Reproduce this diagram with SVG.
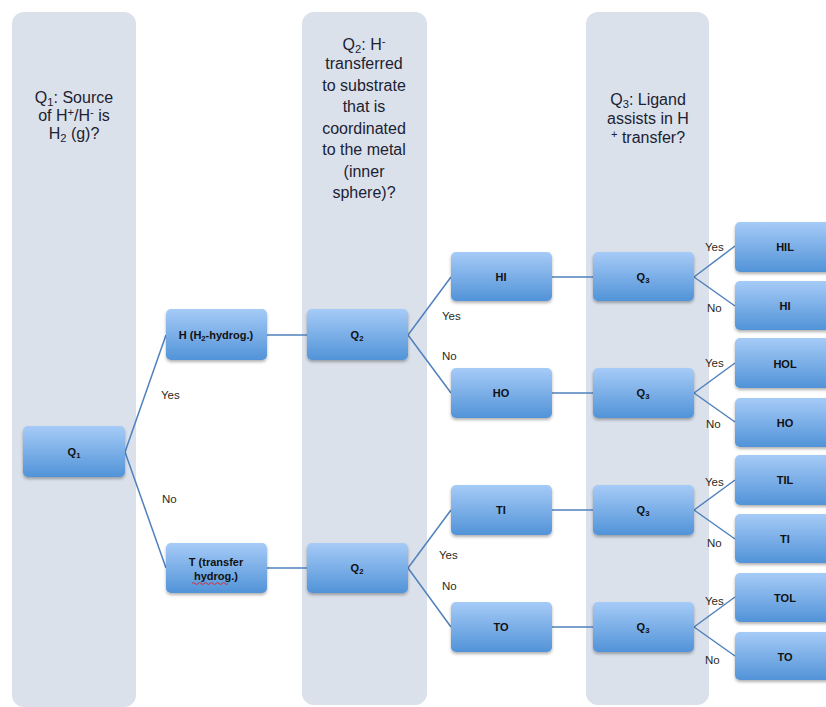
<svg xmlns="http://www.w3.org/2000/svg" width="826" height="707" viewBox="0 0 826 707">
<defs>
<linearGradient id="nodeGrad" x1="0" y1="0" x2="0" y2="1">
<stop offset="0" stop-color="#a6cbf7"/>
<stop offset="1" stop-color="#5193d8"/>
</linearGradient>
<filter id="shadow" x="-10%" y="-10%" width="120%" height="140%">
<feDropShadow dx="0" dy="2" stdDeviation="1.5" flood-color="#000" flood-opacity="0.3"/>
</filter>
</defs>
<style>
.col{fill:#dae1eb;}
.hdr{font-family:"Liberation Sans","Open Sans",sans-serif;font-size:16px;fill:#1c2232;text-anchor:middle;}
.node rect{fill:url(#nodeGrad);filter:url(#shadow);}
.node text{font-family:"Liberation Sans",Arial,sans-serif;font-size:11px;font-weight:bold;fill:#111;text-anchor:middle;}
.conn line{stroke:#4f81bd;stroke-width:1.5;fill:none;}
.lbl{font-family:"Liberation Sans",Arial,sans-serif;font-size:11.5px;fill:#2a2a1a;}
.sub{font-size:70%;}
</style>
<rect width="826" height="707" fill="#ffffff"/>
<g id="columns">
<rect class="col" x="12" y="12" width="124" height="695" rx="12"/>
<rect class="col" x="302" y="12" width="125" height="693" rx="12"/>
<rect class="col" x="586" y="12" width="123" height="693" rx="12"/>
</g>
<g id="headers">
<text class="hdr" x="74" y="103">Q<tspan class="sub" dy="3">1</tspan><tspan dy="-3">: Source</tspan></text>
<text class="hdr" x="74" y="121">of H<tspan class="sub" dy="-5">+</tspan><tspan dy="5">/H</tspan><tspan class="sub" dy="-5">-</tspan><tspan dy="5"> is</tspan></text>
<text class="hdr" x="74" y="139">H<tspan class="sub" dy="3">2</tspan><tspan dy="-3"> (g)?</tspan></text>
<text class="hdr" x="364" y="50">Q<tspan class="sub" dy="3">2</tspan><tspan dy="-3">: H</tspan><tspan class="sub" dy="-5">-</tspan></text>
<text class="hdr" x="364" y="69">transferred</text>
<text class="hdr" x="364" y="91">to substrate</text>
<text class="hdr" x="364" y="112">that is</text>
<text class="hdr" x="364" y="134">coordinated</text>
<text class="hdr" x="364" y="155">to the metal</text>
<text class="hdr" x="364" y="177">(inner</text>
<text class="hdr" x="364" y="198">sphere)?</text>
<text class="hdr" x="648" y="105">Q<tspan class="sub" dy="3">3</tspan><tspan dy="-3">: Ligand</tspan></text>
<text class="hdr" x="648" y="124">assists in H</text>
<text class="hdr" x="648" y="143"><tspan class="sub" dy="-5">+</tspan><tspan dy="5"> transfer?</tspan></text>
</g>
<g id="connectors" class="conn">
<line x1="125" y1="452" x2="166" y2="335"/>
<line x1="125" y1="452" x2="166" y2="568"/>
<line x1="267" y1="335" x2="307" y2="335"/>
<line x1="267" y1="568" x2="307" y2="568"/>
<line x1="408" y1="335" x2="451" y2="277"/>
<line x1="408" y1="335" x2="451" y2="393"/>
<line x1="408" y1="568" x2="451" y2="510"/>
<line x1="408" y1="568" x2="451" y2="627"/>
<line x1="552" y1="277" x2="593" y2="277"/>
<line x1="552" y1="393" x2="593" y2="393"/>
<line x1="552" y1="510" x2="593" y2="510"/>
<line x1="552" y1="627" x2="593" y2="627"/>
<line x1="694" y1="277" x2="735" y2="246"/>
<line x1="694" y1="277" x2="735" y2="306"/>
<line x1="694" y1="393" x2="735" y2="363"/>
<line x1="694" y1="393" x2="735" y2="422"/>
<line x1="694" y1="510" x2="735" y2="480"/>
<line x1="694" y1="510" x2="735" y2="539"/>
<line x1="694" y1="627" x2="735" y2="597"/>
<line x1="694" y1="627" x2="735" y2="656"/>
</g>
<g id="labels">
<text class="lbl" x="161" y="399">Yes</text>
<text class="lbl" x="162" y="503">No</text>
<text class="lbl" x="442" y="320">Yes</text>
<text class="lbl" x="442" y="360">No</text>
<text class="lbl" x="439" y="559">Yes</text>
<text class="lbl" x="442" y="590">No</text>
<text class="lbl" x="705" y="251">Yes</text>
<text class="lbl" x="707" y="312">No</text>
<text class="lbl" x="705" y="367">Yes</text>
<text class="lbl" x="706" y="428">No</text>
<text class="lbl" x="705" y="486">Yes</text>
<text class="lbl" x="707" y="547">No</text>
<text class="lbl" x="705" y="605">Yes</text>
<text class="lbl" x="705" y="664">No</text>
</g>
<g id="q1" class="node"><rect x="23" y="426" width="102" height="51" rx="5"/><text x="74" y="456">Q<tspan class="sub" dy="2">1</tspan></text></g>
<g id="h" class="node"><rect x="166" y="309" width="101" height="51" rx="5"/><text x="216" y="339">H (H<tspan class="sub" dy="2">2</tspan><tspan dy="-2">-hydrog.)</tspan></text></g>
<g id="t" class="node"><rect x="166" y="543" width="101" height="50" rx="5"/><text x="216" y="566">T (transfer</text><text x="216" y="580">hydrog.)</text></g>
<path d="M192 583.5 q1.5 -2 3 0 t3 0 t3 0 t3 0 t3 0 t3 0 t3 0 t3 0 t3 0 t3 0 t3 0 t3 0" fill="none" stroke="#e02020" stroke-width="0.9"/>
<g id="q2a" class="node"><rect x="307" y="309" width="101" height="51" rx="5"/><text x="357" y="339">Q<tspan class="sub" dy="2">2</tspan></text></g>
<g id="q2b" class="node"><rect x="307" y="543" width="101" height="50" rx="5"/><text x="357" y="572">Q<tspan class="sub" dy="2">2</tspan></text></g>
<g id="hi" class="node"><rect x="451" y="252" width="101" height="49" rx="5"/><text x="501" y="281">HI</text></g>
<g id="ho" class="node"><rect x="451" y="368" width="101" height="50" rx="5"/><text x="501" y="397">HO</text></g>
<g id="ti" class="node"><rect x="451" y="485" width="101" height="50" rx="5"/><text x="501" y="514">TI</text></g>
<g id="to" class="node"><rect x="451" y="602" width="101" height="50" rx="5"/><text x="501" y="631">TO</text></g>
<g id="q3a" class="node"><rect x="593" y="252" width="101" height="49" rx="5"/><text x="643" y="281">Q<tspan class="sub" dy="2">3</tspan></text></g>
<g id="q3b" class="node"><rect x="593" y="368" width="101" height="50" rx="5"/><text x="643" y="397">Q<tspan class="sub" dy="2">3</tspan></text></g>
<g id="q3c" class="node"><rect x="593" y="485" width="101" height="50" rx="5"/><text x="643" y="514">Q<tspan class="sub" dy="2">3</tspan></text></g>
<g id="q3d" class="node"><rect x="593" y="602" width="101" height="50" rx="5"/><text x="643" y="631">Q<tspan class="sub" dy="2">3</tspan></text></g>
<g id="hil" class="node"><rect x="735" y="222" width="101" height="50" rx="5"/><text x="785" y="251">HIL</text></g>
<g id="hi2" class="node"><rect x="735" y="281" width="101" height="49" rx="5"/><text x="785" y="310">HI</text></g>
<g id="hol" class="node"><rect x="735" y="338" width="101" height="50" rx="5"/><text x="785" y="368">HOL</text></g>
<g id="ho2" class="node"><rect x="735" y="398" width="101" height="49" rx="5"/><text x="785" y="427">HO</text></g>
<g id="til" class="node"><rect x="735" y="455" width="101" height="50" rx="5"/><text x="785" y="484">TIL</text></g>
<g id="ti2" class="node"><rect x="735" y="514" width="101" height="49" rx="5"/><text x="785" y="543">TI</text></g>
<g id="tol" class="node"><rect x="735" y="573" width="101" height="49" rx="5"/><text x="785" y="602">TOL</text></g>
<g id="to2" class="node"><rect x="735" y="632" width="101" height="48" rx="5"/><text x="785" y="661">TO</text></g>
</svg>
